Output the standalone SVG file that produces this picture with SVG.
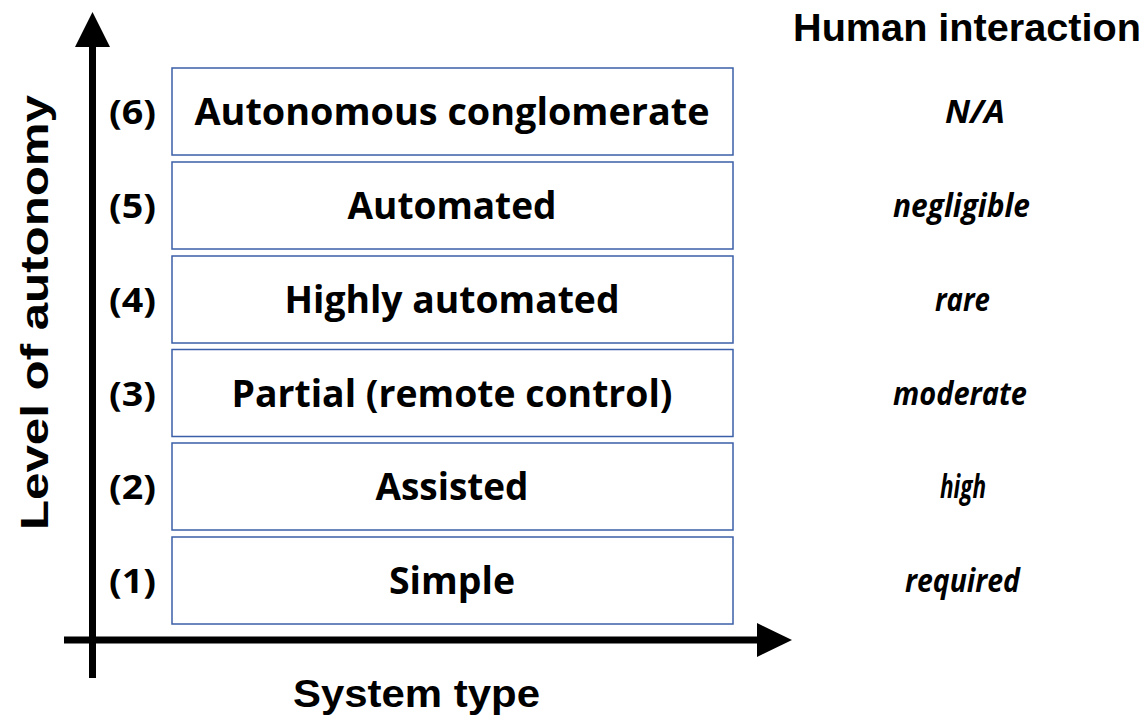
<svg xmlns="http://www.w3.org/2000/svg" width="1146" height="720" viewBox="0 0 1146 720">
<style>
.box{fill:#ffffff;stroke:#3b5fa8;stroke-width:1.5}
.bt{font-family:"Open Sans","Liberation Sans",sans-serif;font-weight:bold;font-size:37px;fill:#000;text-anchor:middle}
.lv{font-family:"Open Sans","Liberation Sans",sans-serif;font-weight:bold;font-size:34px;fill:#000;text-anchor:middle}
.hi{font-family:"Open Sans","Liberation Sans",sans-serif;font-weight:bold;font-style:italic;font-size:33px;fill:#000;text-anchor:middle}
.ax{font-family:"Liberation Sans",Arial,sans-serif;font-weight:bold;font-size:38px;fill:#000}
.axl{stroke:#000;stroke-width:7;fill:none}
</style>
<rect width="1146" height="720" fill="#ffffff"/>
<g id="connectors">
<line class="axl" x1="92.5" y1="678" x2="92.5" y2="45"/>
<polygon points="92.5,12 75,47 110,47" fill="#000"/>
<line class="axl" x1="64" y1="640" x2="759" y2="640"/>
<polygon points="792,640 757,623 757,657" fill="#000"/>
</g>
<g id="level6">
<rect class="box" x="172" y="68" width="561" height="87"/>
<text class="bt" x="452" y="125" textLength="515" lengthAdjust="spacingAndGlyphs">Autonomous conglomerate</text>
<text class="lv" x="132.5" y="124" textLength="47" lengthAdjust="spacingAndGlyphs">(6)</text>
<text class="hi" x="975" y="123" textLength="60" lengthAdjust="spacingAndGlyphs">N/A</text>
</g>
<g id="level5">
<rect class="box" x="172" y="162" width="561" height="87"/>
<text class="bt" x="452" y="219" textLength="209" lengthAdjust="spacingAndGlyphs">Automated</text>
<text class="lv" x="132.5" y="218" textLength="47" lengthAdjust="spacingAndGlyphs">(5)</text>
<text class="hi" x="961.5" y="217" textLength="137" lengthAdjust="spacingAndGlyphs">negligible</text>
</g>
<g id="level4">
<rect class="box" x="172" y="256" width="561" height="87"/>
<text class="bt" x="452" y="313" textLength="335" lengthAdjust="spacingAndGlyphs">Highly automated</text>
<text class="lv" x="132.5" y="312" textLength="47" lengthAdjust="spacingAndGlyphs">(4)</text>
<text class="hi" x="962.5" y="311" textLength="55" lengthAdjust="spacingAndGlyphs">rare</text>
</g>
<g id="level3">
<rect class="box" x="172" y="349.5" width="561" height="87"/>
<text class="bt" x="452" y="406.5" textLength="441" lengthAdjust="spacingAndGlyphs">Partial (remote control)</text>
<text class="lv" x="132.5" y="405.5" textLength="47" lengthAdjust="spacingAndGlyphs">(3)</text>
<text class="hi" x="960" y="404.5" textLength="134" lengthAdjust="spacingAndGlyphs">moderate</text>
</g>
<g id="level2">
<rect class="box" x="172" y="443" width="561" height="87"/>
<text class="bt" x="452" y="500" textLength="153" lengthAdjust="spacingAndGlyphs">Assisted</text>
<text class="lv" x="132.5" y="499" textLength="47" lengthAdjust="spacingAndGlyphs">(2)</text>
<text class="hi" x="963" y="498" textLength="46" lengthAdjust="spacingAndGlyphs">high</text>
</g>
<g id="level1">
<rect class="box" x="172" y="537" width="561" height="87"/>
<text class="bt" x="452" y="594" textLength="126" lengthAdjust="spacingAndGlyphs">Simple</text>
<text class="lv" x="132.5" y="593" textLength="47" lengthAdjust="spacingAndGlyphs">(1)</text>
<text class="hi" x="962.5" y="592" textLength="115" lengthAdjust="spacingAndGlyphs">required</text>
</g>
<g id="labels">
<text class="ax" x="793" y="41" textLength="348" lengthAdjust="spacingAndGlyphs">Human interaction</text>
<text class="ax" x="293" y="707" font-size="40" textLength="247" lengthAdjust="spacingAndGlyphs">System type</text>
<text class="ax" transform="translate(48,530) rotate(-90)" x="0" y="0" font-size="43" textLength="435" lengthAdjust="spacingAndGlyphs">Level of autonomy</text>
</g>
</svg>
